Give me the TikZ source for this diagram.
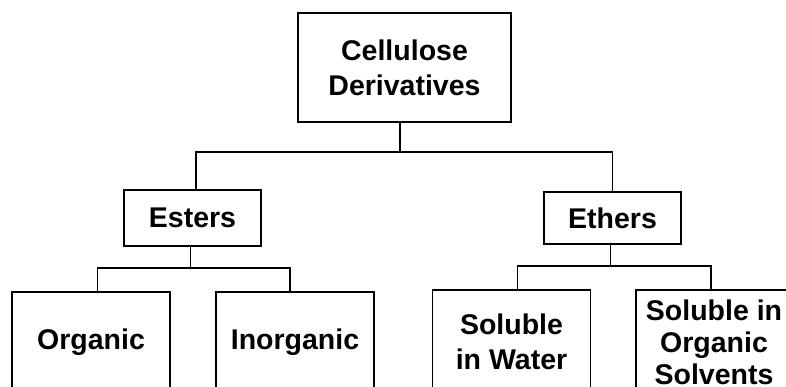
\documentclass[tikz,border=0pt]{standalone}
\usepackage{fontspec}
\setmainfont{Liberation Sans}
\begin{document}
\begin{tikzpicture}[x=1pt,y=-1pt,
  box/.style={draw=black,line width=1.4pt,inner sep=0pt,align=center,
    font=\fontsize{28.5}{35}\selectfont\bfseries},
  link/.style={draw=black,line width=1.4pt}]
\useasboundingbox (0,0) rectangle (786,387);
\clip (0,0) rectangle (786,387);
\node[box,minimum width=213pt,minimum height=109pt] (C) at (404.5,67.5) {Cellulose\\Derivatives};
\node[box,minimum width=137pt,minimum height=56pt] (E) at (192.5,218) {Esters};
\node[box,minimum width=137pt,minimum height=52pt] (T) at (612.5,218) {Ethers};
\node[box,minimum width=158pt,minimum height=100pt] (O) at (91,342) {Organic};
\node[box,minimum width=158pt,minimum height=100pt] (I) at (295,342) {Inorganic};
\node[box,minimum width=158.5pt,minimum height=104pt] (W) at (511.5,342) {Soluble\\in Water};
\node[box,minimum width=156pt,minimum height=104pt,font=\fontsize{28.5}{32}\selectfont\bfseries] (S) at (714,342) {Soluble in\\Organic\\Solvents};
% top level
\draw[link] ([xshift=-4.5pt]C.south) -- ([xshift=-4.5pt]C.south |- 0,152);
\draw[link] ([xshift=3.5pt]E.north) |- ([xshift=-4.5pt]C.south |- 0,152) -| (T.north);
% esters
\draw[link] ([xshift=-2pt]E.south) -- ([xshift=-2pt]E.south |- 0,268);
\draw[link] ([xshift=6.5pt]O.north) |- ([xshift=-2pt]E.south |- 0,268) -| ([xshift=-5pt]I.north);
% ethers
\draw[link] ([xshift=-2pt]T.south) -- ([xshift=-2pt]T.south |- 0,266);
\draw[link] ([xshift=6pt]W.north) |- ([xshift=-2pt]T.south |- 0,266) -| ([xshift=-3pt]S.north);
\end{tikzpicture}
\end{document}
